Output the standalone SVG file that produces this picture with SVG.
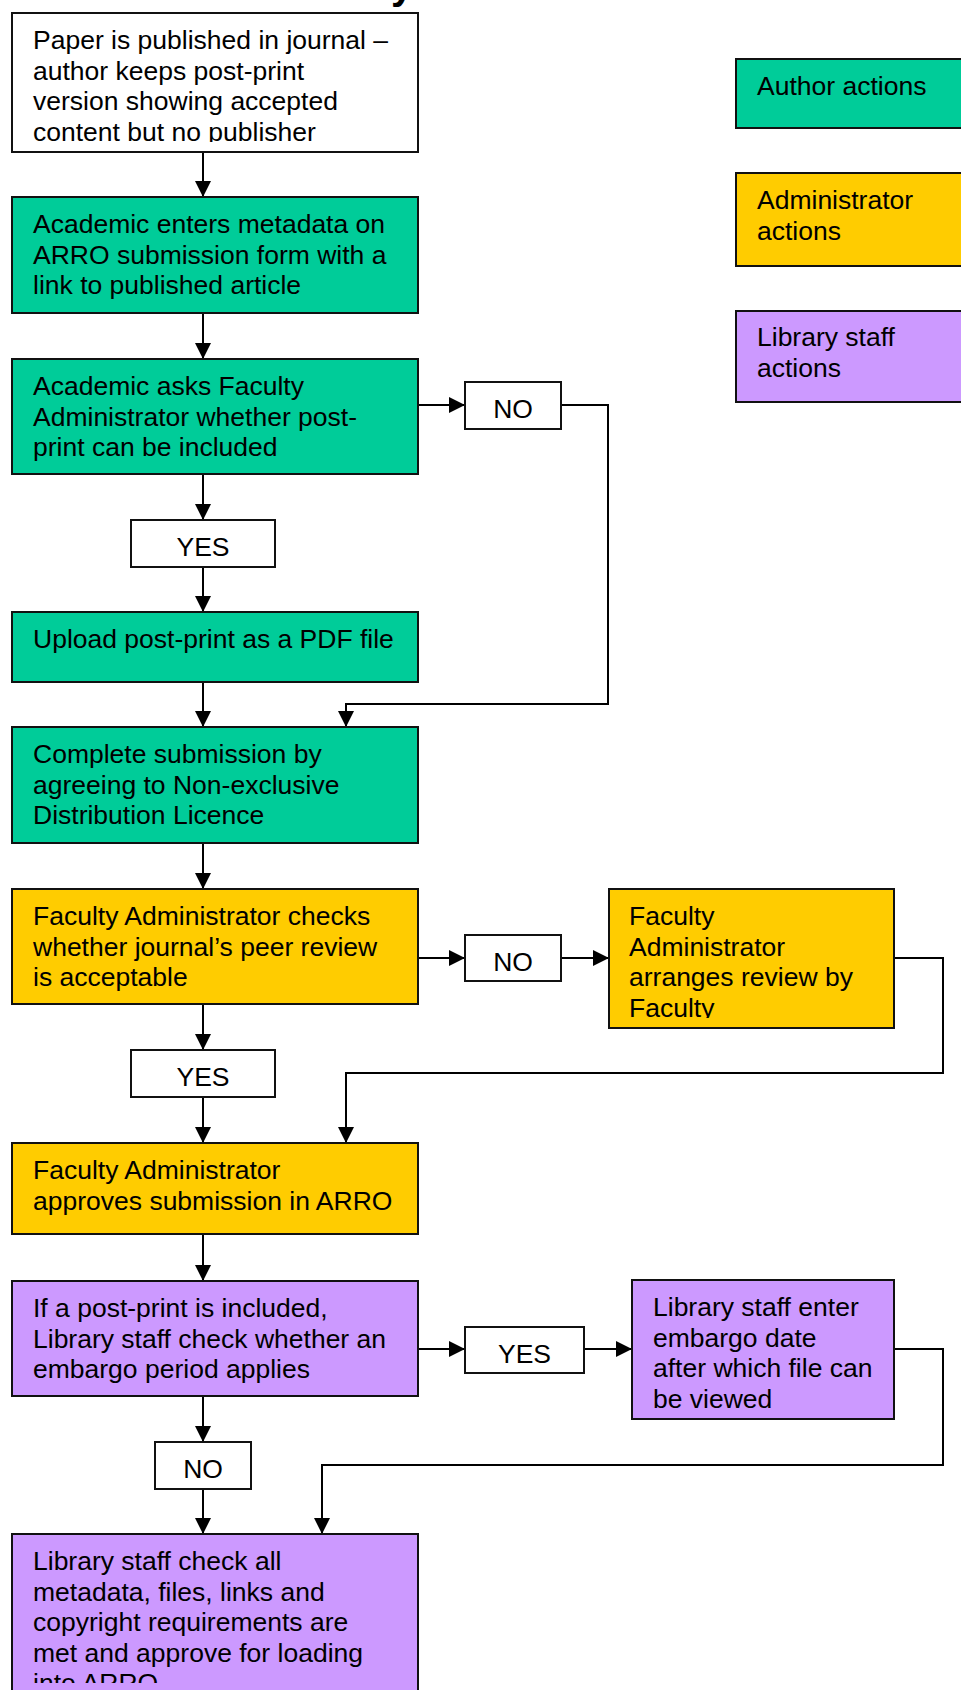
<svg xmlns="http://www.w3.org/2000/svg" width="961" height="1690" viewBox="0 0 961 1690">
<style>
  .box { stroke: #111; stroke-width: 2; }
  .white { fill: #ffffff; }
  .green { fill: #00CC99; }
  .gold { fill: #FFCC00; }
  .purple { fill: #CC99FF; }
  .t { font-family: "Liberation Sans", Arial, sans-serif; font-size: 26.5px; fill: #000; }
  .c { text-anchor: middle; }
  .ln { fill: none; stroke: #000; stroke-width: 2; }
</style>
<defs>
  <marker id="ah" markerUnits="userSpaceOnUse" markerWidth="18" markerHeight="18" refX="16" refY="8" orient="auto">
    <path d="M0,0 L16,8 L0,16 Z" fill="#000"/>
  </marker>
  <clipPath id="clip1"><rect x="12" y="13" width="406" height="129"/></clipPath>
  <clipPath id="clip7"><rect x="609" y="889" width="285" height="129"/></clipPath>
  <clipPath id="clip10"><rect x="12" y="1534" width="406" height="149"/></clipPath>
</defs>
<rect width="961" height="1690" fill="#ffffff"/>

<g id="title-fragment">
  <text x="391" y="-1" style="font-family:'Liberation Sans',Arial,sans-serif;font-weight:bold;font-size:40px">y</text>
</g>

<g id="connectors">
  <line class="ln" x1="203" y1="152" x2="203" y2="197" marker-end="url(#ah)"/>
  <line class="ln" x1="203" y1="313" x2="203" y2="359" marker-end="url(#ah)"/>
  <line class="ln" x1="203" y1="474" x2="203" y2="520" marker-end="url(#ah)"/>
  <line class="ln" x1="203" y1="567" x2="203" y2="612" marker-end="url(#ah)"/>
  <line class="ln" x1="203" y1="682" x2="203" y2="727" marker-end="url(#ah)"/>
  <line class="ln" x1="203" y1="843" x2="203" y2="889" marker-end="url(#ah)"/>
  <line class="ln" x1="203" y1="1004" x2="203" y2="1050" marker-end="url(#ah)"/>
  <line class="ln" x1="203" y1="1097" x2="203" y2="1143" marker-end="url(#ah)"/>
  <line class="ln" x1="203" y1="1234" x2="203" y2="1281" marker-end="url(#ah)"/>
  <line class="ln" x1="203" y1="1396" x2="203" y2="1442" marker-end="url(#ah)"/>
  <line class="ln" x1="203" y1="1489" x2="203" y2="1534" marker-end="url(#ah)"/>
  <line class="ln" x1="418" y1="405" x2="465" y2="405" marker-end="url(#ah)"/>
  <polyline class="ln" points="561,405 608,405 608,704 346,704 346,727" marker-end="url(#ah)"/>
  <line class="ln" x1="418" y1="958" x2="465" y2="958" marker-end="url(#ah)"/>
  <line class="ln" x1="561" y1="958" x2="609" y2="958" marker-end="url(#ah)"/>
  <polyline class="ln" points="894,958 943,958 943,1073 346,1073 346,1143" marker-end="url(#ah)"/>
  <line class="ln" x1="418" y1="1349" x2="465" y2="1349" marker-end="url(#ah)"/>
  <line class="ln" x1="584" y1="1349" x2="632" y2="1349" marker-end="url(#ah)"/>
  <polyline class="ln" points="894,1349 943,1349 943,1465 322,1465 322,1534" marker-end="url(#ah)"/>
</g>

<g id="node-published">
  <rect class="box white" x="12" y="13" width="406" height="139"/>
  <g clip-path="url(#clip1)">
    <text class="t" x="33" y="49">Paper is published in journal –</text>
    <text class="t" x="33" y="79.5">author keeps post-print</text>
    <text class="t" x="33" y="110">version showing accepted</text>
    <text class="t" x="33" y="140.5">content but no publisher</text>
  </g>
</g>

<g id="node-metadata">
  <rect class="box green" x="12" y="197" width="406" height="116"/>
  <text class="t" x="33" y="233">Academic enters metadata on</text>
  <text class="t" x="33" y="263.5">ARRO submission form with a</text>
  <text class="t" x="33" y="294">link to published article</text>
</g>

<g id="node-asks">
  <rect class="box green" x="12" y="359" width="406" height="115"/>
  <text class="t" x="33" y="395">Academic asks Faculty</text>
  <text class="t" x="33" y="425.5">Administrator whether post-</text>
  <text class="t" x="33" y="456">print can be included</text>
</g>

<g id="label-no-1">
  <rect class="box white" x="465" y="382" width="96" height="47"/>
  <text class="t c" x="513" y="418">NO</text>
</g>

<g id="label-yes-1">
  <rect class="box white" x="131" y="520" width="144" height="47"/>
  <text class="t c" x="203" y="556">YES</text>
</g>

<g id="node-upload">
  <rect class="box green" x="12" y="612" width="406" height="70"/>
  <text class="t" x="33" y="648">Upload post-print as a PDF file</text>
</g>

<g id="node-complete">
  <rect class="box green" x="12" y="727" width="406" height="116"/>
  <text class="t" x="33" y="763">Complete submission by</text>
  <text class="t" x="33" y="793.5">agreeing to Non-exclusive</text>
  <text class="t" x="33" y="824">Distribution Licence</text>
</g>

<g id="node-checks-review">
  <rect class="box gold" x="12" y="889" width="406" height="115"/>
  <text class="t" x="33" y="925">Faculty Administrator checks</text>
  <text class="t" x="33" y="955.5">whether journal’s peer review</text>
  <text class="t" x="33" y="986">is acceptable</text>
</g>

<g id="label-no-2">
  <rect class="box white" x="465" y="935" width="96" height="46"/>
  <text class="t c" x="513" y="971">NO</text>
</g>

<g id="node-arranges">
  <rect class="box gold" x="609" y="889" width="285" height="139"/>
  <g clip-path="url(#clip7)">
    <text class="t" x="629" y="925">Faculty</text>
    <text class="t" x="629" y="955.5">Administrator</text>
    <text class="t" x="629" y="986">arranges review by</text>
    <text class="t" x="629" y="1016.5">Faculty</text>
  </g>
</g>

<g id="label-yes-2">
  <rect class="box white" x="131" y="1050" width="144" height="47"/>
  <text class="t c" x="203" y="1086">YES</text>
</g>

<g id="node-approves">
  <rect class="box gold" x="12" y="1143" width="406" height="91"/>
  <text class="t" x="33" y="1179">Faculty Administrator</text>
  <text class="t" x="33" y="1209.5">approves submission in ARRO</text>
</g>

<g id="node-embargo-check">
  <rect class="box purple" x="12" y="1281" width="406" height="115"/>
  <text class="t" x="33" y="1317">If a post-print is included,</text>
  <text class="t" x="33" y="1347.5">Library staff check whether an</text>
  <text class="t" x="33" y="1378">embargo period applies</text>
</g>

<g id="label-yes-3">
  <rect class="box white" x="465" y="1327" width="119" height="46"/>
  <text class="t c" x="524.5" y="1363">YES</text>
</g>

<g id="node-embargo-enter">
  <rect class="box purple" x="632" y="1280" width="262" height="139"/>
  <text class="t" x="653" y="1316">Library staff enter</text>
  <text class="t" x="653" y="1346.5">embargo date</text>
  <text class="t" x="653" y="1377">after which file can</text>
  <text class="t" x="653" y="1407.5">be viewed</text>
</g>

<g id="label-no-3">
  <rect class="box white" x="155" y="1442" width="96" height="47"/>
  <text class="t c" x="203" y="1478">NO</text>
</g>

<g id="node-final-check">
  <rect class="box purple" x="12" y="1534" width="406" height="170"/>
  <g clip-path="url(#clip10)">
    <text class="t" x="33" y="1570">Library staff check all</text>
    <text class="t" x="33" y="1600.5">metadata, files, links and</text>
    <text class="t" x="33" y="1631">copyright requirements are</text>
    <text class="t" x="33" y="1661.5">met and approve for loading</text>
    <text class="t" x="33" y="1692">into ARRO</text>
  </g>
</g>

<g id="legend-author">
  <rect class="box green" x="736" y="59" width="240" height="69"/>
  <text class="t" x="757" y="95">Author actions</text>
</g>
<g id="legend-admin">
  <rect class="box gold" x="736" y="173" width="240" height="93"/>
  <text class="t" x="757" y="209">Administrator</text>
  <text class="t" x="757" y="239.5">actions</text>
</g>
<g id="legend-library">
  <rect class="box purple" x="736" y="311" width="240" height="91"/>
  <text class="t" x="757" y="346">Library staff</text>
  <text class="t" x="757" y="376.5">actions</text>
</g>
</svg>
